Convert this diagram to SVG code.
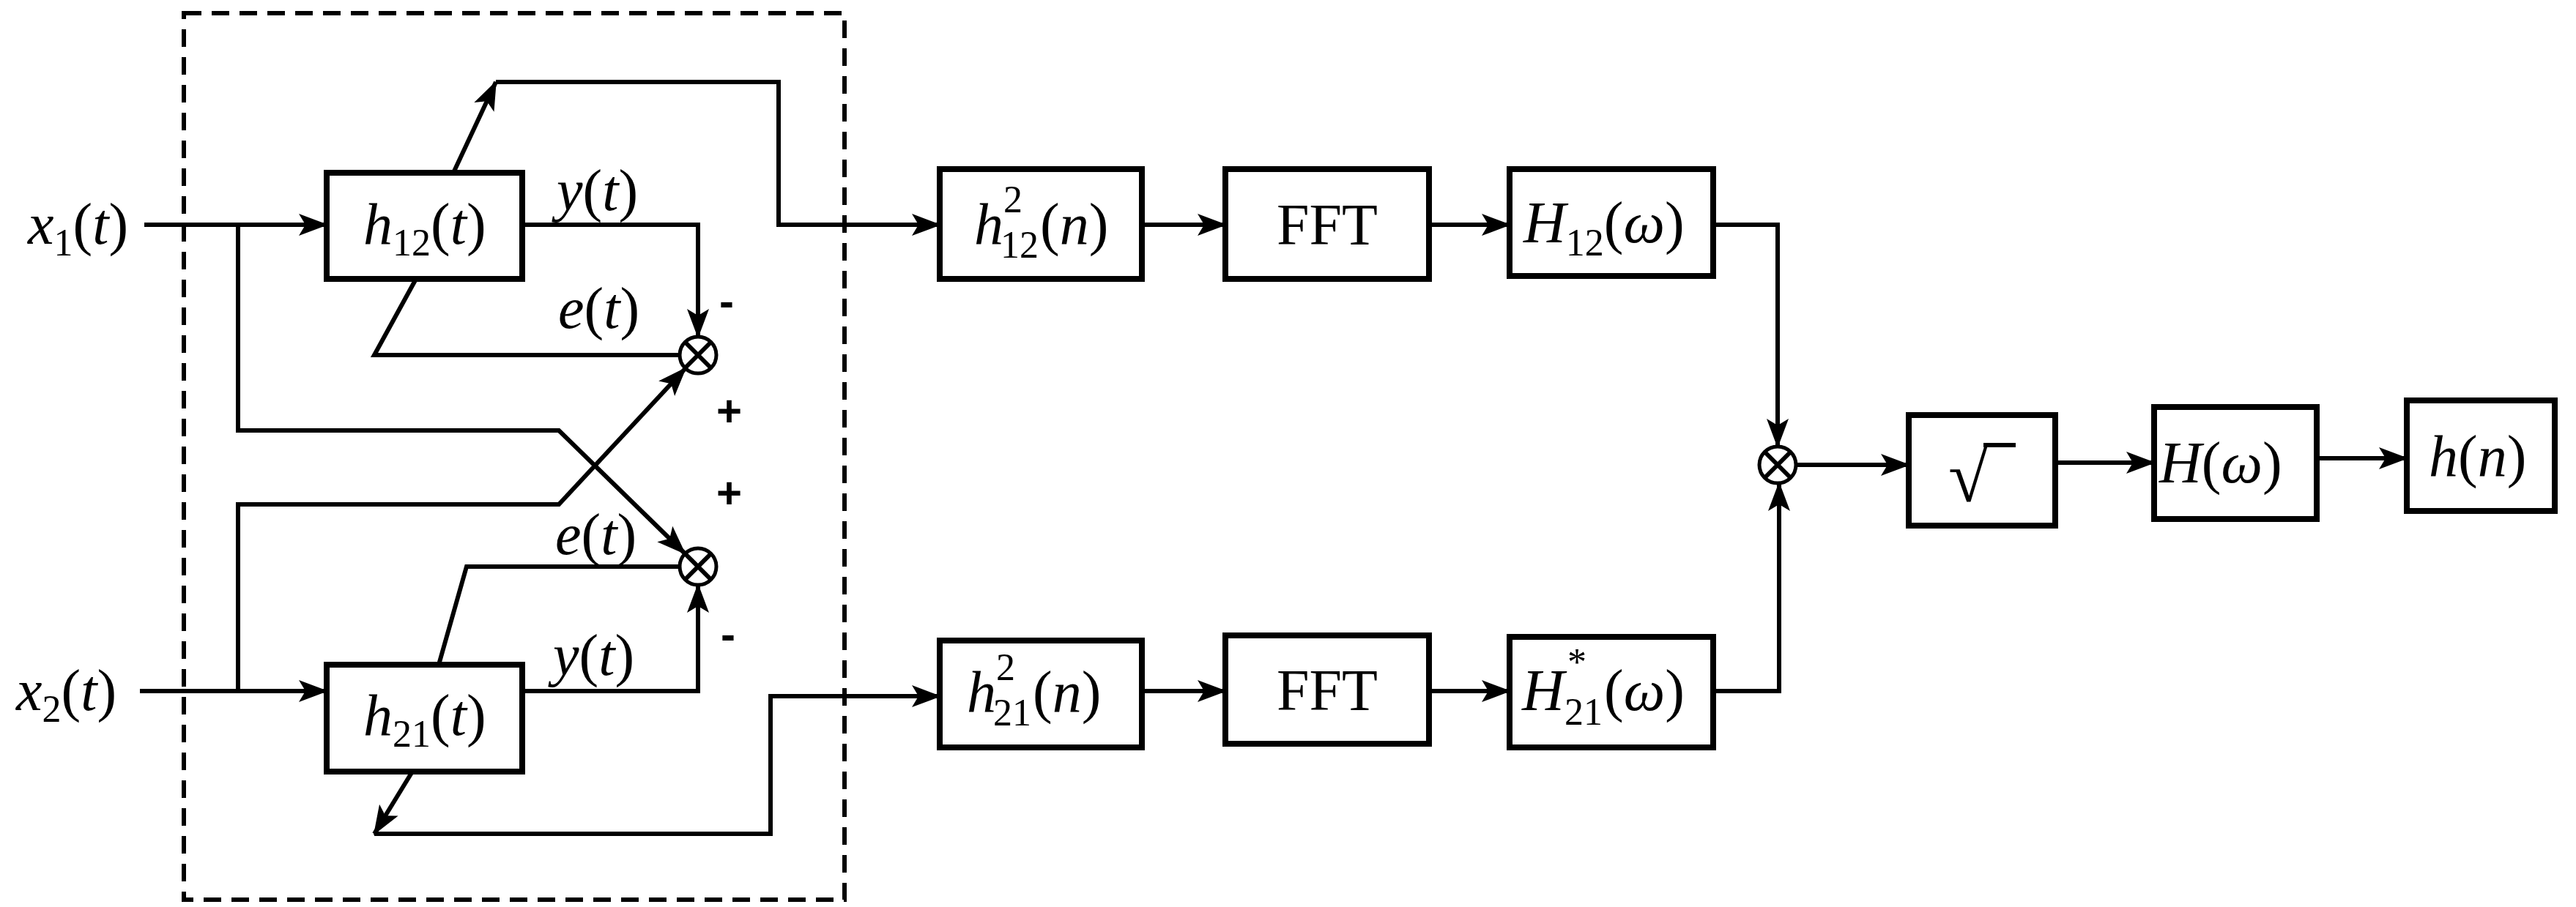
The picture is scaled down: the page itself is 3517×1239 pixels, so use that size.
<svg xmlns="http://www.w3.org/2000/svg" width="3517" height="1239" viewBox="0 0 3517 1239">
<style>
.box{fill:#fff;stroke:#000;stroke-width:8}
.ln{fill:none;stroke:#000;stroke-width:6}
.arr{fill:none;stroke:#000;stroke-width:6;marker-end:url(#ah)}
text{font-family:'Liberation Serif','DejaVu Serif','Times New Roman',serif;fill:#000}
.t{font-size:80px}
.i{font-style:italic}
.s{font-size:52px;font-style:normal}
.sign{font-family:'Liberation Sans','DejaVu Sans',sans-serif;font-size:60px;font-weight:bold}
</style>
<defs>
<marker id="ah" markerUnits="userSpaceOnUse" markerWidth="40" markerHeight="32" refX="38" refY="16" orient="auto">
<path d="M0,1 L40,16 L0,31 L9,16 Z" fill="#000"/>
</marker>
</defs>
<rect x="251" y="18" width="902" height="1211" fill="none" stroke="#000" stroke-width="6" stroke-dasharray="24,14"/>
<g id="connectors">
<path class="arr" d="M197,307 H446"/>
<path class="arr" d="M191,944 H446"/>
<path class="arr" d="M325,307 V588 H763 L935,756"/>
<path class="arr" d="M325,944 V689 H763 L936,503"/>
<path class="arr" d="M713,307 H953 V460"/>
<path class="ln" d="M928,485 H511 L568,381"/>
<path class="arr" d="M619,236 L677,112"/>
<path class="ln" d="M677,112 H1063 V307"/>
<path class="arr" d="M1060,307 H1283"/>
<path class="ln" d="M928,774 H637 L599,908"/>
<path class="arr" d="M713,944 H953 V799"/>
<path class="arr" d="M563,1054 L511,1139"/>
<path class="ln" d="M511,1139 H1052 V951"/>
<path class="arr" d="M1049,951 H1283"/>
<path class="arr" d="M1559,307 H1673"/>
<path class="arr" d="M1951,307 H2061"/>
<path class="arr" d="M1559,944 H1673"/>
<path class="arr" d="M1951,944 H2061"/>
<path class="arr" d="M2339,307 H2427 V610"/>
<path class="arr" d="M2339,944 H2429 V660"/>
<path class="arr" d="M2452,635 H2606"/>
<path class="arr" d="M2806,632 H2941"/>
<path class="arr" d="M3163,626 H3286"/>
</g>
<g id="x1"><text class="t i" x="38" y="333">x<tspan class="s" dy="16">1</tspan><tspan dy="-16" font-style="normal">(</tspan>t<tspan font-style="normal">)</tspan></text></g>
<g id="x2"><text class="t i" x="22" y="970">x<tspan class="s" dy="16">2</tspan><tspan dy="-16" font-style="normal">(</tspan>t<tspan font-style="normal">)</tspan></text></g>
<g id="h12"><rect class="box" x="446" y="236" width="267" height="145"/><text class="t i" x="496" y="333">h<tspan class="s" dy="16">12</tspan><tspan dy="-16" font-style="normal">(</tspan>t<tspan font-style="normal">)</tspan></text></g>
<g id="h21"><rect class="box" x="446" y="908" width="267" height="146"/><text class="t i" x="496" y="1004">h<tspan class="s" dy="16">21</tspan><tspan dy="-16" font-style="normal">(</tspan>t<tspan font-style="normal">)</tspan></text></g>
<g id="labels">
<text class="t i" x="760" y="287">y<tspan font-style="normal">(</tspan>t<tspan font-style="normal">)</tspan></text>
<text class="t i" x="762" y="448">e<tspan font-style="normal">(</tspan>t<tspan font-style="normal">)</tspan></text>
<text class="t i" x="758" y="757">e<tspan font-style="normal">(</tspan>t<tspan font-style="normal">)</tspan></text>
<text class="t i" x="755" y="922">y<tspan font-style="normal">(</tspan>t<tspan font-style="normal">)</tspan></text>
<text class="sign" x="982" y="432">-</text>
<text class="sign" x="978" y="582">+</text>
<text class="sign" x="978" y="694">+</text>
<text class="sign" x="984" y="887">-</text>
</g>
<g id="sum1"><circle cx="953" cy="485" r="25" fill="#fff" stroke="#000" stroke-width="5"/><path class="ln" stroke-width="4" d="M935,467 L971,503 M971,467 L935,503"/></g>
<g id="sum2"><circle cx="953" cy="774" r="25" fill="#fff" stroke="#000" stroke-width="5"/><path class="ln" stroke-width="4" d="M935,756 L971,792 M971,756 L935,792"/></g>
<g id="sum3"><circle cx="2427" cy="635" r="25" fill="#fff" stroke="#000" stroke-width="5"/><path class="ln" stroke-width="4" d="M2409,617 L2445,653 M2445,617 L2409,653"/></g>
<g id="h12sq"><rect class="box" x="1283" y="231" width="276" height="150"/><text class="t i" x="1330" y="333">h<tspan class="s" x="1366" y="352">12</tspan><tspan class="s" x="1370" y="290">2</tspan><tspan font-style="normal" x="1420" y="333">(</tspan>n<tspan font-style="normal">)</tspan></text></g>
<g id="fft1"><rect class="box" x="1673" y="231" width="278" height="150"/><text class="t" x="1812" y="334" text-anchor="middle">FFT</text></g>
<g id="H12"><rect class="box" x="2061" y="231" width="278" height="146"/><text class="t i" x="2080" y="331">H<tspan class="s" dy="18">12</tspan><tspan dy="-18" font-style="normal">(</tspan>ω<tspan font-style="normal">)</tspan></text></g>
<g id="h21sq"><rect class="box" x="1283" y="875" width="276" height="146"/><text class="t i" x="1320" y="972">h<tspan class="s" x="1356" y="991">21</tspan><tspan class="s" x="1360" y="929">2</tspan><tspan font-style="normal" x="1410" y="972">(</tspan>n<tspan font-style="normal">)</tspan></text></g>
<g id="fft2"><rect class="box" x="1673" y="868" width="278" height="148"/><text class="t" x="1812" y="970" text-anchor="middle">FFT</text></g>
<g id="H21"><rect class="box" x="2061" y="870" width="278" height="151"/><text class="t i" x="2078" y="970">H<tspan class="s" x="2136" y="990">21</tspan><tspan class="s" x="2140" y="922">*</tspan><tspan font-style="normal" x="2190" y="970">(</tspan>ω<tspan font-style="normal">)</tspan></text></g>
<g id="sqrt"><rect class="box" x="2606" y="567" width="200" height="151"/><text x="2660" y="685" font-size="100">√</text><path class="ln" stroke-width="5" d="M2708,608 H2752"/></g>
<g id="H"><rect class="box" x="2941" y="556" width="222" height="153"/><text class="t i" x="2948" y="659">H<tspan font-style="normal">(</tspan>ω<tspan font-style="normal">)</tspan></text></g>
<g id="hn"><rect class="box" x="3286" y="547" width="202" height="151"/><text class="t i" x="3316" y="650">h<tspan font-style="normal">(</tspan>n<tspan font-style="normal">)</tspan></text></g>
</svg>
